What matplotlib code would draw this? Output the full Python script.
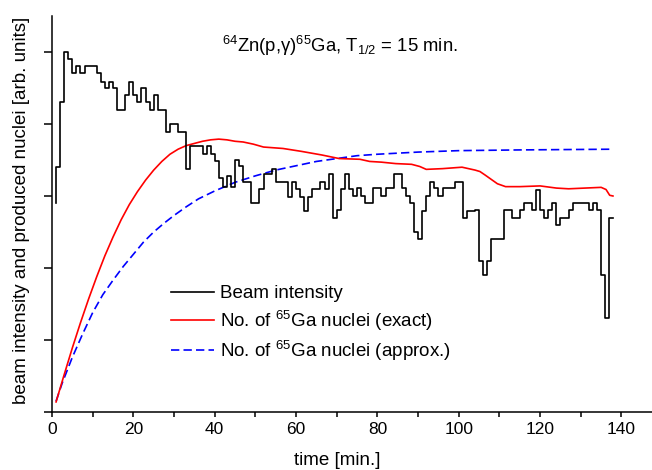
import numpy as np
import matplotlib
matplotlib.use('Agg')
import matplotlib.pyplot as plt
from matplotlib.ticker import MultipleLocator, NullFormatter

plt.rcParams['font.family'] = ['Liberation Sans', 'DejaVu Sans']
plt.rcParams['mathtext.fontset'] = 'custom'
plt.rcParams['mathtext.rm'] = 'Liberation Sans'
plt.rcParams['mathtext.it'] = 'Liberation Sans:italic'
plt.rcParams['mathtext.default'] = 'regular'

# beam intensity, 1 min bins starting at t = 1 min (first value = starting level)
beam_start = 2.90
beam = [3.40, 4.30, 5.00, 4.90, 4.71, 4.80, 4.71, 4.80, 4.80, 4.80,
        4.71, 4.59, 4.50, 4.59, 4.50, 4.19, 4.19, 4.40, 4.59, 4.40,
        4.30, 4.50, 4.30, 4.19, 4.40, 4.20, 4.20, 3.89, 4.00, 4.00,
        3.89, 3.89, 3.38, 3.70, 3.70, 3.70, 3.59, 3.70, 3.59, 3.49,
        3.25, 3.12, 3.28, 3.12, 3.50, 3.41, 3.20, 3.20, 2.90, 2.90,
        3.10, 3.30, 3.30, 3.38, 3.20, 3.20, 3.20, 2.99, 3.20, 3.10,
        2.99, 2.79, 2.99, 3.10, 3.10, 3.20, 3.10, 3.30, 2.70, 2.80,
        3.10, 3.30, 3.10, 3.00, 3.11, 3.00, 2.90, 2.90, 3.11, 3.11,
        3.00, 3.11, 3.11, 3.30, 3.30, 3.11, 3.00, 2.90, 2.50, 2.40,
        2.79, 3.00, 3.20, 3.11, 3.00, 3.11, 3.11, 3.11, 3.20, 3.20,
        2.70, 2.79, 2.79, 2.80, 2.10, 1.90, 2.10, 2.40, 2.40, 2.40,
        2.80, 2.80, 2.70, 2.70, 2.80, 2.90, 2.90, 2.80, 3.09, 2.80,
        2.70, 2.80, 2.90, 2.60, 2.70, 2.70, 2.80, 2.90, 2.90, 2.90,
        2.90, 2.80, 2.90, 2.80, 1.90, 1.30, 2.70]
beam_t = np.arange(1, len(beam) + 2)

# number of 65Ga nuclei, exact
exact_t = [1.0, 3.0, 5.0, 7.0, 9.0, 11.0, 13.0, 15.0, 17.0, 19.0, 21.0,
           23.0, 25.0, 27.0, 29.0, 31.0, 33.0, 35.0, 37.0, 39.0, 41.0, 43.0,
           45.0, 47.0, 49.5, 52.0, 56.8, 61.3, 66.3, 70.6, 75.7, 78.1, 81.0,
           84.5, 88.4, 90.4, 92.0, 96.0, 100.8, 104.0, 105.2, 106.5, 108.0,
           109.5, 111.5, 115.0, 120.0, 124.0, 127.0, 131.0, 135.0, 136.2,
           137.1, 137.9]
exact = [0.14, 0.52, 0.89, 1.24, 1.57, 1.88, 2.17, 2.43, 2.67, 2.88, 3.06,
         3.22, 3.36, 3.48, 3.58, 3.65, 3.70, 3.73, 3.76, 3.78, 3.79, 3.78,
         3.76, 3.75, 3.72, 3.68, 3.66, 3.62, 3.57, 3.52, 3.51, 3.48, 3.47,
         3.45, 3.44, 3.41, 3.37, 3.38, 3.40, 3.36, 3.34, 3.29, 3.23,
         3.17, 3.13, 3.13, 3.14, 3.11, 3.10, 3.11, 3.12, 3.09,
         3.01, 3.00]

# number of 65Ga nuclei, approximation
approx_t = [1.0, 2.5, 5.0, 7.5, 10.0, 12.5, 15.0, 17.5, 20.0, 22.5, 25.0,
            27.5, 30.0, 33.0, 36.0, 40.0, 45.0, 50.0, 55.0, 60.0, 65.0,
            70.0, 75.0, 80.0, 90.0, 100.0, 115.0, 138.0]
approx = [0.15, 0.40, 0.76, 1.08, 1.38, 1.63, 1.83, 2.02, 2.19, 2.36, 2.50,
          2.62, 2.73, 2.85, 2.96, 3.07, 3.19, 3.28, 3.36, 3.42, 3.48,
          3.52, 3.56, 3.58, 3.61, 3.63, 3.64, 3.65]

fig = plt.figure(figsize=(6.52, 4.70), dpi=100)
ax = fig.add_axes([52 / 652, 58 / 470, 600 / 652, 396 / 470])

ax.plot(approx_t, approx, color='#0000ff', lw=1.2, dashes=(5, 2.5),
        label=r'No. of $^{65}$Ga nuclei (approx.)')
ax.plot(exact_t, exact, color='#ff0000', lw=1.2,
        label=r'No. of $^{65}$Ga nuclei (exact)')
ax.plot(beam_t, [beam_start] + beam, drawstyle='steps-pre', color='black',
        lw=1.2, label='Beam intensity')

ax.set_xlim(0, 147.5)
ax.set_ylim(0, 5.5)
ax.spines['top'].set_visible(False)
ax.spines['right'].set_visible(False)
ax.spines['left'].set_linewidth(1.1)
ax.spines['bottom'].set_linewidth(1.1)

ax.xaxis.set_major_locator(MultipleLocator(20))
ax.xaxis.set_minor_locator(MultipleLocator(10))
ax.set_xticks([0, 20, 40, 60, 80, 100, 120, 140])
ax.set_yticks([0, 1, 2, 3, 4, 5])
ax.yaxis.set_major_formatter(NullFormatter())
ax.tick_params(axis='x', which='both', direction='out', length=3.5, width=1.1,
               labelsize=12.5, pad=4)
ax.tick_params(axis='y', which='both', direction='out', length=5.5, width=1.1)

ax.set_xlabel('time [min.]', fontsize=13.5)
ax.xaxis.set_label_coords(0.475, -0.1)
ax.set_ylabel('beam intensity and produced nuclei [arb. units]', fontsize=13.5)
ax.yaxis.set_label_coords(-0.036, 0.51)

ax.text(70.8, 5.08, r'$^{64}$Zn(p,γ)$^{65}$Ga, T$_{1/2}$ = 15 min.',
        fontsize=13.3, ha='center', va='center')

handles, labels = ax.get_legend_handles_labels()
ax.legend(handles[::-1], labels[::-1], loc='upper left',
          bbox_to_anchor=(0.198, 0.32), frameon=False, fontsize=13.5,
          handlelength=2.3, handletextpad=0.35, labelspacing=0.33,
          borderpad=0, borderaxespad=0)

fig.savefig('out.png', dpi=100)
